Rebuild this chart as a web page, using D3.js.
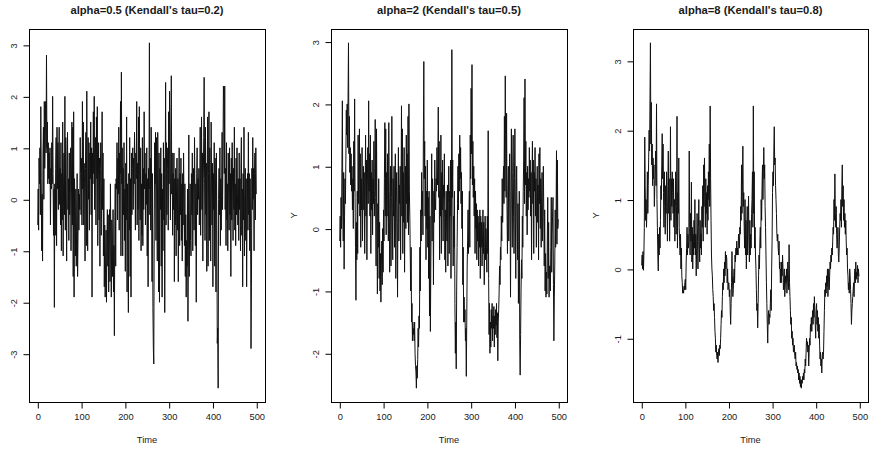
<!DOCTYPE html>
<html>
<head>
<meta charset="utf-8">
<script src="https://cdn.jsdelivr.net/npm/d3@7"></script>
<style>
  body { margin: 0; background: #fff; }
  svg { display: block; }
  text { font-family: "Liberation Sans", Arial, sans-serif; fill: #1a1a1a; }
</style>
</head>
<body>
<div id="chart"></div>
<script>
// Panel titles
const titles = [
    "alpha=0.5 (Kendall's tau=0.2)",
    "alpha=2 (Kendall's tau=0.5)",
    "alpha=8 (Kendall's tau=0.8)"
];

// Tick values
const xTicks = [0, 100, 200, 300, 400, 500];
const yTicks1 = [-3, -2, -1, 0, 1, 2, 3];
const yTicks2 = [-2, -1, 0, 1, 2, 3];
const yTicks3 = [-1, 0, 1, 2, 3];

// Series values, Time = 1..500
const series1 = [
    -0.5,0.2,-0.6,0.8,0.3,1.0,-0.3,1.8,0.4,-1.0,0.1,-1.2,0.9,1.4,0.0,1.9,0.6,1.2,1.9,0.9,
    2.8,1.0,1.5,0.3,1.1,0.4,0.9,0.3,1.0,-0.5,0.6,0.2,1.1,0.3,2.0,0.5,-0.7,0.2,-2.1,0.3,
    -0.7,0.6,1.2,-0.9,1.4,0.2,1.1,-0.2,0.8,1.4,-0.1,0.6,-0.5,1.1,-1.0,0.5,-0.4,1.5,-1.1,0.3,
    0.9,-0.3,2.0,-0.6,1.2,0.1,-1.2,0.7,1.3,-0.2,0.4,-0.8,0.9,-0.3,0.3,1.0,-1.0,0.2,1.5,-0.5,
    1.4,-1.5,1.7,-1.9,0.4,-0.5,-1.1,0.2,-1.3,-0.4,0.5,-1.5,-0.7,0.2,-0.6,0.1,-0.2,1.2,0.5,-0.3,
    0.8,-0.5,1.9,0.2,1.5,-0.5,0.7,0.3,-1.2,0.6,1.3,-0.9,2.1,0.2,-1.0,1.2,0.0,1.1,-0.6,0.9,
    0.4,1.5,-0.3,1.0,-1.9,0.9,0.3,1.7,0.5,2.0,-0.2,0.8,1.2,-0.5,1.6,0.4,1.8,-0.9,0.2,1.1,
    -0.4,0.8,-1.3,0.6,1.1,-0.7,0.3,1.7,-0.2,0.9,-1.1,0.4,-1.7,-0.5,-1.9,-1.2,-0.6,-2.0,-0.8,-0.2,
    -1.3,-0.3,-1.8,-0.7,-0.2,-1.6,0.3,-1.0,-1.9,-0.4,-0.7,-1.5,-0.2,-1.8,-0.9,-2.65,-0.5,0.3,-1.3,0.4,
    0.2,1.1,-0.4,0.8,0.1,1.4,-0.6,0.9,0.5,1.9,-1.1,2.47,0.3,1.0,-1.1,0.6,-0.3,1.1,-0.8,0.2,
    -1.4,0.7,-0.4,1.6,-1.8,0.3,-0.9,-2.2,0.5,-0.6,1.2,-1.5,0.4,-1.9,0.9,-0.3,0.6,1.0,-0.2,0.8,
    0.3,1.3,0.5,-0.6,0.9,0.4,1.9,-0.5,0.7,-0.2,1.6,-0.8,1.8,0.0,-0.4,1.0,-1.0,0.3,-0.7,1.2,
    -0.9,0.6,-0.2,1.7,0.2,0.9,-0.5,0.5,-0.1,1.0,-1.1,0.4,-1.7,0.6,0.2,3.04,-0.3,0.8,-0.6,1.4,
    0.2,-1.6,0.5,-2.1,-2.9,-3.2,-0.5,1.1,0.3,1.3,-0.8,1.2,0.1,-1.2,1.3,0.4,-1.8,0.9,-2.0,0.6,
    -0.2,1.0,-1.3,0.5,-1.9,0.2,-1.0,1.1,-0.4,0.8,-2.2,0.3,2.27,-0.5,1.1,-0.3,0.6,1.0,-0.6,1.7,
    0.3,2.1,0.8,-0.4,1.2,2.4,0.1,0.9,-0.7,0.5,-0.2,0.9,-1.6,0.4,-0.5,0.6,-1.1,0.2,0.8,-0.6,
    0.4,-1.6,0.2,1.0,-0.9,0.5,-0.3,0.8,-0.8,0.3,-1.2,0.5,-0.5,0.9,-0.1,-0.9,0.3,-1.5,-0.3,-1.9,
    -0.8,-1.3,0.2,-2.37,-1.0,1.25,-1.5,-0.4,0.3,-0.8,-1.1,0.5,-0.3,0.9,-1.0,0.2,0.6,-0.6,1.2,0.1,
    -0.9,0.3,-2.0,0.5,1.0,-0.3,0.4,0.0,0.6,-0.5,0.2,1.4,-0.7,0.5,1.6,-0.2,0.9,-1.2,0.3,1.2,
    2.37,0.4,-0.8,1.4,-0.3,0.7,-1.4,0.4,1.6,-1.3,0.5,1.7,-0.8,1.0,0.2,-1.2,1.5,0.3,-0.5,0.7,
    -1.7,0.5,-0.2,1.1,-1.3,0.8,0.2,-1.8,0.9,-0.5,-2.8,-2.5,-3.67,0.0,0.6,-0.3,1.0,-0.9,0.4,-0.6,
    0.3,1.3,-0.2,0.8,2.2,1.9,0.5,2.2,-0.2,0.6,-0.9,1.1,-0.4,0.3,-1.0,0.9,0.2,-0.6,1.0,-0.3,
    0.5,-1.5,0.8,-0.4,1.1,0.2,-0.8,0.6,-0.2,1.4,-0.6,0.3,-0.9,0.8,-0.3,1.0,0.1,-0.5,0.4,-0.8,
    0.9,-0.2,0.4,-1.0,0.6,1.2,-0.7,0.2,-1.7,0.5,-0.4,1.4,-1.1,0.1,0.6,-0.8,0.4,-1.7,-0.3,0.5,
    -0.6,1.3,-0.3,0.5,-1.0,0.4,-0.5,-2.9,-1.7,0.6,-0.2,1.2,0.0,0.6,-1.0,0.5,0.9,-0.4,1.0,0.1
];

const series2 = [
    -0.2,0.2,-0.3,0.5,0.0,1.0,2.05,0.3,-0.2,0.9,-0.65,0.2,0.8,0.4,1.1,1.9,1.5,2.0,1.3,2.1,
    2.98,1.2,1.8,0.9,1.3,0.7,1.2,0.6,1.0,0.3,0.8,0.0,1.4,0.6,2.08,0.5,-0.3,-1.15,0.1,-0.5,
    0.6,-0.4,1.5,0.4,1.0,1.6,0.2,1.2,-0.3,0.8,0.3,1.3,-0.2,0.6,1.0,0.3,0.9,-0.4,0.5,1.5,
    0.2,1.1,-0.5,0.7,1.3,0.4,2.05,0.6,1.2,0.2,1.5,-0.4,0.9,0.3,1.1,-0.1,0.8,0.4,1.4,0.2,
    0.6,1.75,0.5,-0.6,1.6,0.2,-1.05,0.4,-0.3,0.8,-0.8,0.1,-1.0,-0.4,-1.18,-0.6,-0.2,-0.9,0.0,-0.7,
    0.3,-0.2,0.8,1.7,0.2,1.6,-0.1,0.9,0.2,1.2,0.4,-0.2,1.7,0.6,-0.7,0.3,1.0,-0.6,0.5,1.8,
    0.3,-0.5,0.8,0.2,1.0,-0.3,0.6,1.2,-0.8,0.4,0.9,0.1,-1.1,0.5,1.3,-0.2,0.7,0.4,1.0,-0.5,
    0.6,1.97,0.2,1.6,-0.4,0.9,0.1,1.3,-0.7,0.5,1.0,0.0,1.5,0.4,1.2,0.1,1.8,-0.1,2.0,0.6,
    0.2,-0.4,-1.0,-0.3,-1.5,-1.2,-1.8,-1.5,-1.7,-1.6,-1.8,-1.5,-2.0,-2.2,-2.3,-2.56,-2.2,-2.4,-2.1,-1.6,
    -1.9,-1.4,-1.6,-0.3,-1.0,0.3,-0.2,0.9,0.2,0.6,-0.1,1.5,2.68,0.8,1.4,0.2,1.0,-0.5,0.6,0.0,
    1.1,-0.3,0.5,-0.8,0.6,-1.4,0.2,-1.65,-0.6,0.3,1.2,-0.2,0.8,0.4,-0.9,0.6,0.1,1.1,0.5,0.3,
    0.8,0.6,1.3,0.7,1.0,1.95,0.5,1.4,-0.5,0.6,0.2,1.5,-0.4,0.9,0.3,1.1,-0.2,0.7,0.5,1.2,
    -0.5,0.3,-0.7,0.6,0.1,-0.2,0.7,-0.6,0.4,1.0,-0.4,0.6,0.2,1.1,-0.8,0.3,2.87,0.5,1.1,-0.6,
    0.2,-0.3,0.6,-1.2,-2.0,-1.5,-2.25,-1.0,-0.3,0.4,1.0,0.3,1.2,0.6,1.5,0.8,1.3,0.4,0.9,0.0,
    0.6,-0.9,-0.3,-1.5,-1.1,-1.5,-1.3,-1.8,-1.6,-2.37,-1.5,-0.6,-0.2,0.3,-0.4,0.2,0.6,-0.3,1.5,0.8,
    2.25,1.2,2.63,0.7,1.4,0.5,1.0,0.2,0.8,-0.4,0.6,0.0,0.4,-0.5,0.3,-0.2,0.2,-0.6,0.1,-0.3,
    0.3,-0.8,0.2,-0.3,0.1,-0.6,-0.2,0.3,-0.4,0.1,-0.9,-0.3,0.2,-0.5,0.0,-0.3,-0.7,0.2,-0.4,1.57,
    -0.8,-1.7,-1.2,-2.0,-1.5,-1.9,-1.3,-1.6,-1.2,-1.8,-1.4,-1.6,-1.25,-1.9,-1.4,-1.7,-1.3,-1.55,-1.2,-1.75,
    -1.35,-2.12,-1.5,-1.3,-1.0,-0.6,-0.9,-0.3,-0.5,0.2,-0.2,0.8,0.1,0.6,1.0,0.4,1.8,0.6,2.45,1.2,
    0.5,1.85,0.3,-0.4,0.6,1.0,-0.2,0.5,1.2,0.3,-1.1,0.6,1.6,0.4,-0.3,0.9,1.5,0.2,-0.4,0.8,
    1.6,0.3,-0.8,0.6,1.0,0.2,-0.5,0.4,-1.2,-0.5,0.6,-1.8,-2.35,-1.7,-1.0,-0.5,-0.8,0.2,-0.3,0.6,
    1.1,2.1,0.4,2.4,0.7,1.4,0.2,0.9,-0.1,1.0,0.3,0.8,0.5,1.3,0.6,1.1,0.2,0.9,-0.5,0.7,
    1.4,0.4,1.1,-0.4,0.9,0.6,1.3,0.2,0.8,-0.3,0.6,1.0,0.1,0.7,-0.5,1.2,0.4,1.3,0.0,0.8,
    -0.3,0.5,0.9,-0.2,0.4,1.0,0.2,-0.6,0.3,-1.0,-0.4,-1.1,-0.7,-1.05,-0.2,0.5,-0.8,0.1,-1.1,-0.6,
    -0.6,-1.0,-0.3,0.5,-0.7,-0.1,0.2,0.5,-0.9,-1.8,-1.1,-0.6,0.3,-0.3,0.2,1.25,-0.25,1.1,0.0,0.15
];

const series3 = [
    0.05,0.2,0.0,0.25,-0.02,0.2,0.6,1.9,1.2,0.7,1.0,0.6,0.9,1.4,0.8,1.2,1.6,2.0,1.7,2.45,
    3.26,1.8,2.4,1.5,1.8,1.2,1.6,1.3,1.5,0.9,1.2,1.4,1.7,1.2,2.38,1.0,0.6,0.2,-0.03,0.5,
    0.2,0.6,0.3,0.7,1.2,1.0,1.5,1.95,1.3,1.8,1.1,0.6,1.4,0.9,0.5,1.2,0.8,1.4,1.0,0.4,
    1.2,1.7,0.8,1.3,0.4,1.0,2.05,0.7,1.3,0.9,1.4,1.1,0.8,1.3,0.6,1.0,0.4,0.8,1.4,0.5,
    0.9,2.2,0.3,1.1,0.8,1.6,0.6,0.4,0.2,0.5,0.0,0.3,-0.1,-0.2,-0.35,-0.3,-0.35,-0.25,-0.3,-0.2,
    -0.15,-0.3,0.1,0.3,0.6,0.2,0.5,0.3,0.4,1.7,0.6,0.2,0.8,0.4,1.25,0.1,0.6,0.0,0.5,0.2,
    0.7,0.3,1.0,0.2,0.5,-0.1,0.3,0.8,0.4,0.0,0.6,1.0,0.4,0.1,0.7,0.3,0.5,0.2,0.9,0.6,
    1.2,0.4,1.5,0.9,1.6,1.0,0.6,1.3,0.8,1.1,0.5,1.2,0.7,1.4,1.0,1.8,0.9,2.35,1.3,0.7,
    0.2,0.0,-0.1,-0.3,-0.4,-0.6,-0.5,-0.7,-0.9,-1.0,-1.2,-1.1,-1.25,-1.3,-1.2,-1.35,-1.2,-1.15,-1.25,-1.1,
    -1.15,-1.0,-0.8,-0.6,-0.7,-0.4,-0.2,-0.3,0.0,-0.2,0.1,-0.1,0.25,0.0,0.2,0.15,-0.2,0.0,-0.3,-0.2,
    -0.2,-0.4,-0.3,-0.6,-0.8,-0.5,-0.2,0.25,-0.1,-0.4,-0.3,-0.1,0.0,-0.2,0.2,0.1,0.3,0.2,0.4,0.2,
    0.3,0.2,0.5,0.4,0.3,0.6,0.5,0.9,0.7,1.5,0.8,1.2,1.77,0.9,1.1,0.6,0.3,1.0,0.2,0.7,
    0.0,0.5,0.9,0.2,0.6,1.05,0.4,0.1,0.7,0.2,0.5,0.3,0.8,1.0,1.4,0.6,2.35,0.8,1.4,0.3,
    0.6,0.2,0.0,-0.3,-0.6,-0.5,-0.85,-0.5,-0.1,0.2,0.0,0.4,0.6,0.3,1.0,0.7,1.2,1.5,1.0,1.4,
    1.75,1.3,1.5,0.9,0.6,0.2,-0.2,-0.5,-0.8,-1.07,-0.7,-0.6,-0.8,-0.65,-0.7,-0.5,-0.3,-0.6,0.0,0.4,
    1.1,1.4,1.2,1.7,2.05,1.5,1.6,1.2,1.0,0.8,0.5,0.4,0.5,0.3,0.2,0.4,0.0,0.1,-0.2,0.0,
    -0.2,0.1,-0.1,0.2,0.0,-0.3,-0.2,0.0,-0.4,-0.3,-0.1,-0.2,0.0,-0.35,-0.2,0.1,-0.1,-0.3,0.35,-0.2,
    -0.4,-0.6,-0.8,-0.7,-1.0,-0.9,-1.1,-1.0,-1.2,-1.15,-1.1,-1.25,-1.3,-1.2,-1.4,-1.35,-1.45,-1.4,-1.5,-1.45,
    -1.6,-1.5,-1.65,-1.55,-1.7,-1.6,-1.72,-1.6,-1.65,-1.55,-1.6,-1.5,-1.6,-1.45,-1.5,-1.3,-1.4,-1.2,-1.0,-1.1,
    -1.05,-1.2,-1.1,-1.4,-1.2,-1.0,-1.1,-0.8,-0.9,-0.7,-0.9,-0.75,-0.6,-0.8,-0.5,-0.7,-0.4,-0.6,-0.8,-1.0,
    -0.6,-0.5,-0.8,-0.6,-0.9,-0.7,-1.0,-0.8,-1.1,-1.3,-1.2,-1.4,-1.3,-1.5,-1.25,-1.2,-1.3,-1.2,-0.9,-0.6,
    -0.3,-0.4,-0.2,-0.35,-0.1,-0.25,0.0,-0.4,-0.2,0.0,-0.3,-0.1,0.1,0.0,0.2,0.1,0.3,0.2,0.4,0.6,
    0.5,1.0,0.7,1.37,0.8,0.6,0.9,0.5,0.3,0.4,0.6,0.2,0.1,0.3,0.6,0.8,0.7,1.0,0.6,1.2,
    1.5,0.9,1.2,0.7,1.0,0.6,0.8,0.5,0.7,0.4,0.2,0.3,0.0,-0.1,-0.3,-0.2,-0.35,0.0,-0.1,-0.3,
    -0.5,-0.8,-0.6,-0.5,-0.4,-0.3,-0.2,-0.4,-0.1,0.0,-0.2,0.1,-0.15,-0.05,-0.1,0.05,-0.2,0.0,-0.1,-0.1
];

// Page size and plot box geometry
const totalWidth = 875, totalHeight = 450;
const boxTop = 29, boxBottom = 402;

const panels = [
    {title: titles[0], values: series1, yTicks: yTicks1, left: 29,  right: 265, yLabel: ""},
    {title: titles[1], values: series2, yTicks: yTicks2, left: 331, right: 567, yLabel: "Y"},
    {title: titles[2], values: series3, yTicks: yTicks3, left: 633, right: 868, yLabel: "Y"}
];

// R prints plain integers with an ascii minus
const intFormat = d => String(d);

const svg = d3.select("#chart").append("svg")
    .attr("width", totalWidth)
    .attr("height", totalHeight);

panels.forEach(function(p) {
    const n = p.values.length;

    // R style axes: 4% padding on both ends
    const x = d3.scaleLinear()
        .domain([1 - 0.04 * (n - 1), n + 0.04 * (n - 1)])
        .range([p.left, p.right]);

    const ext = d3.extent(p.values);
    const pad = 0.04 * (ext[1] - ext[0]);
    const y = d3.scaleLinear()
        .domain([ext[0] - pad, ext[1] + pad])
        .range([boxBottom, boxTop]);

    const g = svg.append("g");

    // The series line
    const line = d3.line()
        .x((d, i) => x(i + 1))
        .y(d => y(d));

    g.append("path")
        .datum(p.values)
        .attr("fill", "none")
        .attr("stroke", "#111")
        .attr("stroke-width", 1)
        .attr("d", line);

    // Box around the plot
    g.append("rect")
        .attr("x", p.left + 0.5)
        .attr("y", boxTop + 0.5)
        .attr("width", p.right - p.left)
        .attr("height", boxBottom - boxTop)
        .attr("fill", "none")
        .attr("stroke", "#000")
        .attr("stroke-width", 1);

    // X axis
    const xAxis = g.append("g")
        .attr("transform", `translate(0.5,${boxBottom + 0.5})`)
        .call(d3.axisBottom(x).tickValues(xTicks).tickFormat(intFormat).tickSize(6).tickPadding(5));
    xAxis.select(".domain").remove();
    xAxis.selectAll("text")
        .style("font-size", "9.3px")
        .attr("fill", "#1a1a1a");

    // Y axis, labels parallel to axis
    const yAxis = g.append("g")
        .attr("transform", `translate(${p.left + 0.5},0.5)`)
        .call(d3.axisLeft(y).tickValues(p.yTicks).tickFormat(intFormat).tickSize(6));
    yAxis.select(".domain").remove();
    yAxis.selectAll("text")
        .attr("x", 0)
        .attr("y", 0)
        .attr("dy", "0.35em")
        .attr("text-anchor", "middle")
        .attr("transform", "translate(-16,0) rotate(-90)")
        .style("font-size", "9.3px")
        .attr("fill", "#1a1a1a");

    // Title
    g.append("text")
        .attr("x", (p.left + p.right) / 2)
        .attr("y", 14)
        .attr("text-anchor", "middle")
        .style("font-size", "11.2px")
        .style("font-weight", "bold")
        .text(p.title);

    // X label
    g.append("text")
        .attr("x", (p.left + p.right) / 2)
        .attr("y", 443)
        .attr("text-anchor", "middle")
        .style("font-size", "9.3px")
        .text("Time");

    // Y label
    if (p.yLabel) {
        g.append("text")
            .attr("transform", `translate(${p.left - 37},${(boxTop + boxBottom) / 2}) rotate(-90)`)
            .attr("dy", "0.35em")
            .attr("text-anchor", "middle")
            .style("font-size", "9.3px")
            .text(p.yLabel);
    }
});
</script>
</body>
</html>
